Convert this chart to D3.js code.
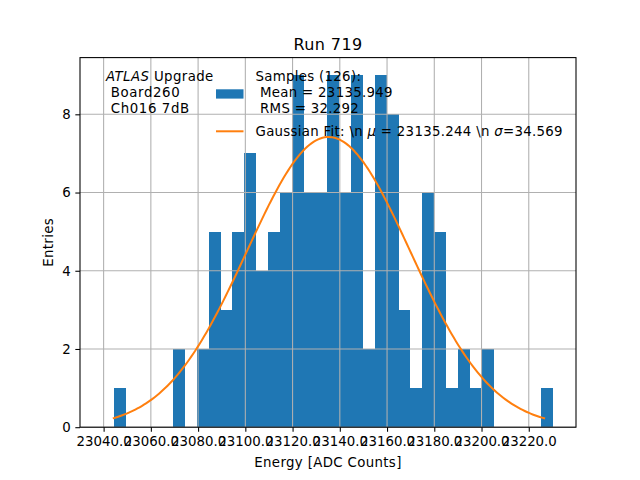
<!DOCTYPE html>
<html><head><meta charset="utf-8">
<script src="https://cdn.jsdelivr.net/npm/d3@7"></script>
<style>
body{margin:0;background:#fff}
text{font-family:"DejaVu Sans",sans-serif;white-space:pre}
</style>
</head><body><svg id="c" width="640" height="480"></svg>
<script>
// ---- data ----
const counts = [1,0,0,0,0,2,0,2,5,3,5,7,4,5,6,9,6,6,9,6,9,2,9,8,3,1,6,5,1,2,1,2,0,0,0,0,1];
const binStart = 23044.3;
const binWidth = 5.025;
const xTicks = [23040,23060,23080,23100,23120,23140,23160,23180,23200,23220];
const xTickLabels = ["23040.0","23060.0","23080.0","23100.0","23120.0","23140.0","23160.0","23180.0","23200.0","23220.0"];
const yTicks = [0,2,4,6,8];
const yTickLabels = ["0","2","4","6","8"];
const fitMu = 23135.244;
const fitSigma = 34.569;
const fitAmp = 7.42;
const fitRange = [23044.3, 23226.5];
const xDomain = [23030, 23240];
const yDomain = [0, 9.45];
const titleText = "Run 719";
const xLabel = "Energy [ADC Counts]";
const yLabel = "Entries";
const atlasLines = [" Board260", " Ch016 7dB"];
const legendHistLines = ["Samples (126):", " Mean = 23135.949", " RMS = 32.292"];

// ---- layout ----
const L = 80, R = 576, T = 57.6, B = 427.2;
const blue = "#1f77b4", orange = "#ff7f0e";
const fs = 13.33;
const ls = 0.3;
const svg = d3.select("#c");
const x = d3.scaleLinear().domain(xDomain).range([L, R]);
const y = d3.scaleLinear().domain(yDomain).range([B, T]);

const bins = counts.map((c, i) => ({x0: binStart + i * binWidth, x1: binStart + (i + 1) * binWidth, c}));

// bars
svg.append("g").selectAll("rect").data(bins.filter(d => d.c > 0)).join("rect")
  .attr("x", d => x(d.x0)).attr("width", d => x(d.x1) - x(d.x0))
  .attr("y", d => y(d.c)).attr("height", d => y(0) - y(d.c))
  .attr("fill", blue).attr("shape-rendering", "crispEdges");

// grid (above bars, below line)
const grid = svg.append("g").attr("stroke", "#b0b0b0").attr("stroke-width", 1.07);
grid.selectAll(".gx").data(xTicks).join("line")
  .attr("x1", d => x(d)).attr("x2", d => x(d)).attr("y1", T).attr("y2", B);
grid.selectAll(".gy").data(yTicks).join("line")
  .attr("y1", d => y(d)).attr("y2", d => y(d)).attr("x1", L).attr("x2", R);

// gaussian fit line (from the fit parameters shown in the legend)
const n = 200;
const fitPts = d3.range(n + 1).map(i => {
  const xv = fitRange[0] + (fitRange[1] - fitRange[0]) * i / n;
  return [xv, fitAmp * Math.exp(-0.5 * Math.pow((xv - fitMu) / fitSigma, 2))];
});
svg.append("path").datum(fitPts)
  .attr("d", d3.line().x(d => x(d[0])).y(d => y(d[1])))
  .attr("fill", "none").attr("stroke", orange).attr("stroke-width", 2)
  .attr("stroke-linejoin", "round").attr("stroke-linecap", "square");

// axes
const tk = 4.67;
const xa = svg.append("g").attr("transform", `translate(0,${B})`)
  .call(d3.axisBottom(x).tickValues(xTicks).tickFormat((d, i) => xTickLabels[i]).tickSize(tk).tickPadding(tk));
const ya = svg.append("g").attr("transform", `translate(${L},0)`)
  .call(d3.axisLeft(y).tickValues(yTicks).tickFormat((d, i) => yTickLabels[i]).tickSize(tk).tickPadding(tk));
[xa, ya].forEach(g => {
  g.select(".domain").remove();
  g.selectAll(".tick line").attr("stroke", "#000").attr("stroke-width", 1.07);
  g.selectAll(".tick text").attr("font-size", fs).attr("fill", "#000")
    .attr("font-family", "DejaVu Sans");
});

// spines
svg.append("rect").attr("x", L).attr("y", T).attr("width", R - L).attr("height", B - T)
  .attr("fill", "none").attr("stroke", "#000").attr("stroke-width", 1.07);

// title & labels
svg.append("text").attr("x", (L + R) / 2).attr("y", 49.6).attr("text-anchor", "middle")
  .attr("font-size", 16).attr("letter-spacing", 0.4).text(titleText);
svg.append("text").attr("x", (L + R) / 2).attr("y", 467).attr("text-anchor", "middle")
  .attr("font-size", fs).attr("letter-spacing", 0.35).text(xLabel);
svg.append("text").attr("transform", `translate(53,${(T + B) / 2}) rotate(-90)`)
  .attr("text-anchor", "middle").attr("font-size", fs).attr("letter-spacing", 0.35).text(yLabel);

// ATLAS text
const lineY = [80.8, 97, 113.2];
const at = svg.append("text").attr("x", 106).attr("y", lineY[0]).attr("font-size", fs).attr("letter-spacing", 0.4);
at.append("tspan").attr("font-style", "italic").text("ATLAS");
at.append("tspan").text(" Upgrade");
atlasLines.forEach((s, i) => svg.append("text").attr("x", 106).attr("y", lineY[i + 1])
  .attr("font-size", fs).attr("letter-spacing", 0.6).text(s));

// legend (no frame)
svg.append("rect").attr("x", 216).attr("y", 89.3).attr("width", 27.5).attr("height", 9.3).attr("fill", blue);
legendHistLines.forEach((s, i) => svg.append("text").attr("x", 255.5).attr("y", lineY[i])
  .attr("font-size", fs).attr("letter-spacing", ls).text(s));
svg.append("line").attr("x1", 216).attr("x2", 243.5).attr("y1", 131.3).attr("y2", 131.3)
  .attr("stroke", orange).attr("stroke-width", 2);
const gt = svg.append("text").attr("x", 255.5).attr("y", 135.9).attr("font-size", fs).attr("letter-spacing", ls);
gt.append("tspan").text("Gaussian Fit: \\n ");
gt.append("tspan").attr("font-style", "italic").text("\u03bc");
gt.append("tspan").text(" = 23135.244 \\n ");
gt.append("tspan").attr("font-style", "italic").text("\u03c3");
gt.append("tspan").text("=34.569");
</script></body></html>
